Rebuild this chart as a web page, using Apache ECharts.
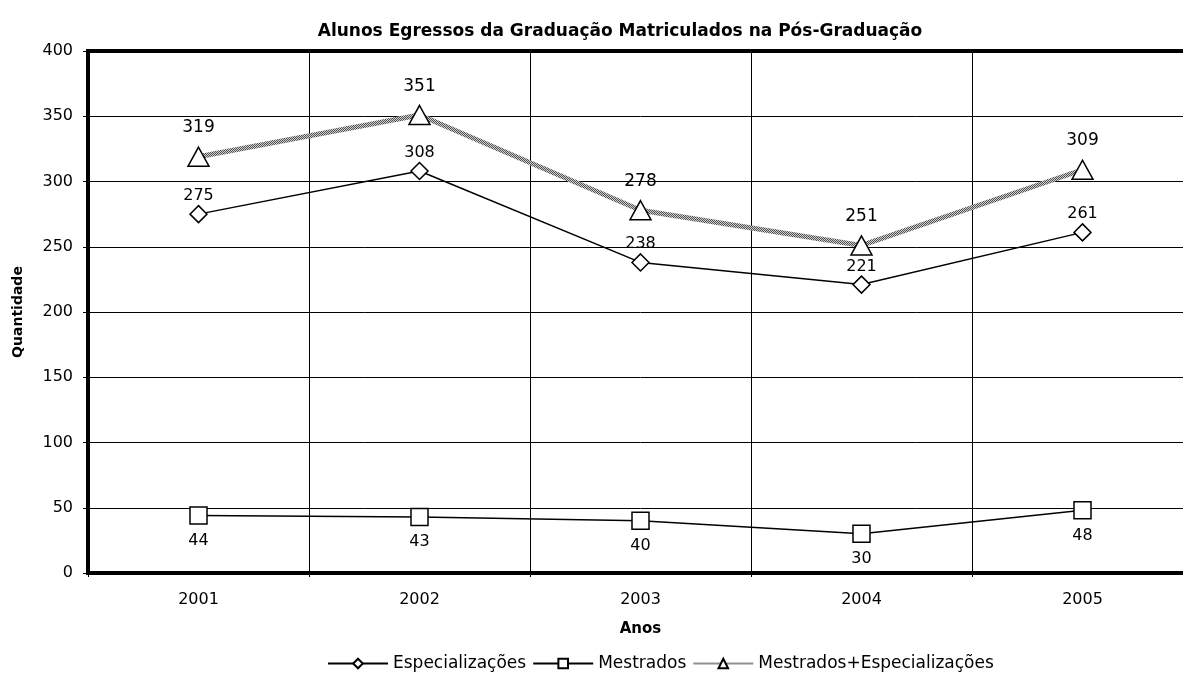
<!DOCTYPE html>
<html>
<head>
<meta charset="utf-8">
<script src="https://cdn.jsdelivr.net/npm/echarts@6/dist/echarts.min.js"></script>
<style>
html, body { margin: 0; padding: 0; background: #fff; overflow: hidden; }
#chart { width: 1200px; height: 673px; }
</style>
</head>
<body>
<div id="chart"></div>
<script>
var anos = ['2001', '2002', '2003', '2004', '2005'];
var especializacoes = [275, 308, 238, 221, 261];
var mestrados = [44, 43, 40, 30, 48];
var total = [319, 351, 278, 251, 309];

// the plot runs past the right edge of the 1183px window, so the div is wider
var chart = echarts.init(document.getElementById('chart'), null, {renderer: 'canvas'});
var font = 'DejaVu Sans';

// hatched grey stroke for the total line
var hatch = document.createElement('canvas');
hatch.width = 2; hatch.height = 2;
var hctx = hatch.getContext('2d');
hctx.fillStyle = '#d0d0d0'; hctx.fillRect(0, 0, 2, 2);
hctx.fillStyle = '#505050'; hctx.fillRect(0, 0, 1, 1); hctx.fillRect(1, 1, 1, 1);

var option = {
    animation: false,
    backgroundColor: '#fff',
    textStyle: {fontFamily: font, color: '#000'},
    title: {
        text: 'Alunos Egressos da Graduação Matriculados na Pós-Graduação',
        left: 615, top: 18, textAlign: 'center',
        textStyle: {fontFamily: font, fontSize: 17, fontWeight: 'bold', color: '#000'}
    },
    legend: {
        top: 650, left: 322,
        itemWidth: 60, itemHeight: 12, itemGap: 6,
        textStyle: {fontFamily: font, fontSize: 17, color: '#000'},
        data: ['Especializações', 'Mestrados', 'Mestrados+Especializações']
    },
    grid: {
        left: 88, width: 1105, top: 51, bottom: 100,
        show: true, borderColor: '#000', borderWidth: 4
    },
    xAxis: {
        type: 'category',
        data: anos,
        boundaryGap: true,
        name: 'Anos', nameLocation: 'middle', nameGap: 49,
        nameTextStyle: {fontFamily: font, fontSize: 15, fontWeight: 'bold', color: '#000'},
        axisLine: {lineStyle: {color: '#000', width: 4}},
        axisTick: {show: true, length: 4, lineStyle: {color: '#000'}},
        axisLabel: {fontFamily: font, fontSize: 16, color: '#000', margin: 19},
        splitLine: {show: true, lineStyle: {color: '#000', width: 1}}
    },
    yAxis: {
        type: 'value',
        min: 0, max: 400, interval: 50,
        name: 'Quantidade', nameLocation: 'middle', nameGap: 63,
        nameTextStyle: {fontFamily: font, fontSize: 14, fontWeight: 'bold', color: '#000'},
        axisLine: {show: true, lineStyle: {color: '#000', width: 4}},
        axisTick: {show: true, length: 5, lineStyle: {color: '#000'}},
        axisLabel: {fontFamily: font, fontSize: 16, color: '#000', margin: 15},
        splitLine: {show: true, lineStyle: {color: '#000', width: 1}}
    },
    series: [
        {
            name: 'Especializações',
            type: 'line',
            data: especializacoes,
            symbol: 'diamond', symbolSize: 17,
            lineStyle: {color: '#000', width: 1.5},
            itemStyle: {color: '#fff', borderColor: '#000', borderWidth: 1.5},
            label: {show: true, position: 'top', distance: 1, fontFamily: font, fontSize: 16, color: '#000'},
            z: 3
        },
        {
            name: 'Mestrados',
            type: 'line',
            data: mestrados,
            symbol: 'rect', symbolSize: 17,
            lineStyle: {color: '#000', width: 1.5},
            itemStyle: {color: '#fff', borderColor: '#000', borderWidth: 1.5},
            label: {show: true, position: 'bottom', distance: 8, fontFamily: font, fontSize: 16, color: '#000'},
            z: 3
        },
        {
            name: 'Mestrados+Especializações',
            type: 'line',
            data: total,
            symbol: 'triangle', symbolSize: [21, 19],
            lineStyle: {color: {image: hatch, repeat: 'repeat'}, width: 5},
            itemStyle: {color: '#fff', borderColor: '#000', borderWidth: 1.5},
            label: {show: true, position: 'top', distance: 10, fontFamily: font, fontSize: 17, color: '#000'},
            z: 4
        }
    ]
};

chart.setOption(option);
</script>
</body>
</html>
